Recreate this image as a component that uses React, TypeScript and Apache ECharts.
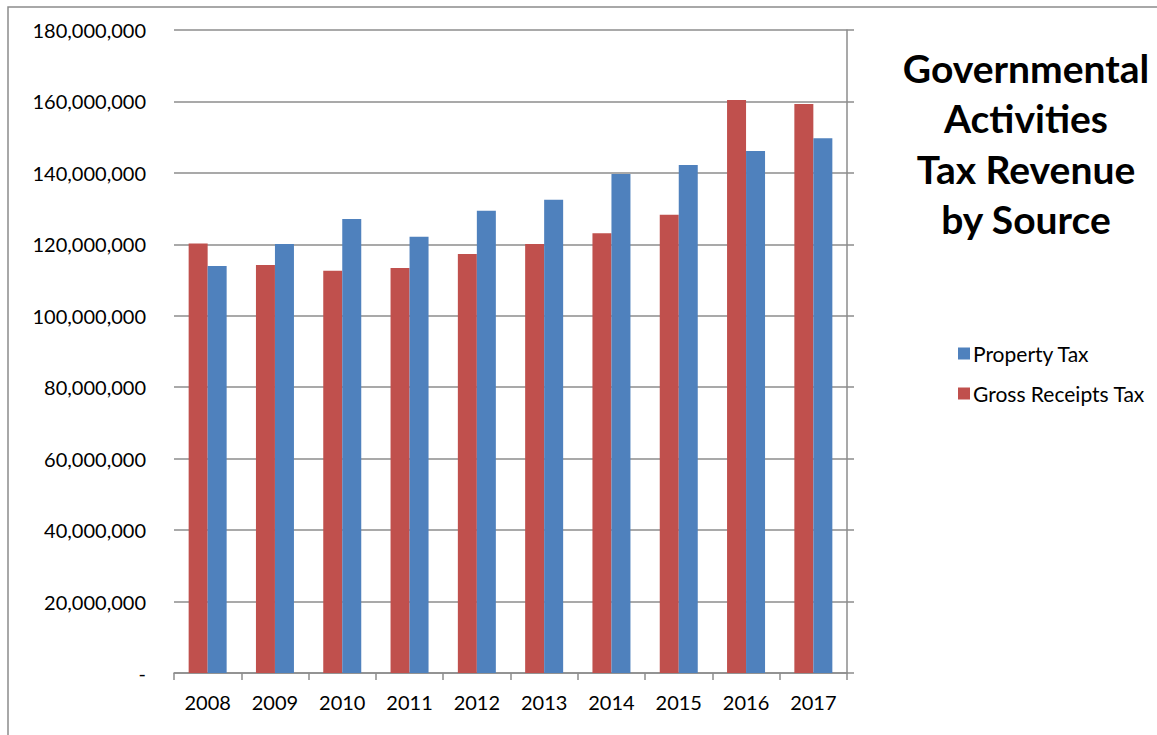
import React, { useEffect, useRef } from "react";
import * as echarts from "echarts";

const years = ["2008", "2009", "2010", "2011", "2012", "2013", "2014", "2015", "2016", "2017"];
const propertyTax = [113.9e6, 120.1e6, 127.1e6, 122.1e6, 129.4e6, 132.5e6, 139.7e6, 142.2e6, 146.1e6, 149.7e6];
const grossReceiptsTax = [120.2e6, 114.2e6, 112.6e6, 113.4e6, 117.3e6, 120.1e6, 123.1e6, 128.3e6, 160.4e6, 159.3e6];
const titleLines = ["Governmental", "Activities", "Tax Revenue", "by Source"];
const FONT = "Lato, 'Open Sans', sans-serif";

export default function App() {
  const ref = useRef<HTMLDivElement>(null);
  useEffect(() => {
    const chart = echarts.init(ref.current!, null, { renderer: "svg" });
    const fmt = (v: number) => (v === 0 ? "-" : v.toLocaleString("en-US"));
    chart.setOption({
      animation: false,
      textStyle: { fontFamily: FONT },
      grid: { left: 174, right: 310, top: 30, bottom: 62, containLabel: false },
      legend: {
        data: ["Property Tax", "Gross Receipts Tax"],
        orient: "vertical",
        left: 953,
        top: 338,
        itemWidth: 12,
        itemHeight: 12,
        itemGap: 19,
        icon: "rect",
        textStyle: { fontSize: 21, color: "#000", fontFamily: FONT, padding: [0, 0, 0, -2] },
      },
      graphic: [
        {
          type: "rect",
          shape: { x: 8, y: 7, width: 1300, height: 900 },
          style: { fill: "none", stroke: "#8c8c8c", lineWidth: 1.5 },
          silent: true,
        },
        {
          type: "text",
          x: 1026,
          y: 43,
          style: {
            text: titleLines.join("\n"),
            font: `bold 39px ${FONT}`,
            fill: "#000",
            textAlign: "center",
            textVerticalAlign: "top",
            lineHeight: 50.3,
          },
        },
      ],
      xAxis: {
        type: "category",
        data: years,
        boundaryGap: true,
        axisLine: { show: true, lineStyle: { color: "#8c8c8c", width: 1.5 } },
        axisTick: { show: true, length: 7, alignWithLabel: false, lineStyle: { color: "#8c8c8c", width: 1.5 } },
        axisLabel: { fontSize: 20, color: "#000", margin: 19, fontFamily: FONT },
      },
      yAxis: [
        {
          type: "value",
          min: 0,
          max: 180000000,
          interval: 20000000,
          position: "left",
          axisLine: { show: false },
          axisTick: { show: false },
          splitLine: { show: true, lineStyle: { color: "#8c8c8c", width: 1.5 } },
          axisLabel: { fontSize: 20, color: "#000", margin: 28, formatter: fmt, fontFamily: FONT },
        },
        {
          type: "value",
          min: 0,
          max: 180000000,
          interval: 20000000,
          position: "right",
          axisLine: { show: true, lineStyle: { color: "#8c8c8c", width: 1.5 } },
          axisTick: { show: true, length: 7, lineStyle: { color: "#8c8c8c", width: 1.5 } },
          splitLine: { show: false },
          axisLabel: { show: false },
        },
      ],
      series: [
        {
          name: "Gross Receipts Tax",
          type: "bar",
          data: grossReceiptsTax,
          barWidth: 19,
          barGap: "0%",
          itemStyle: { color: "#C0504D" },
        },
        {
          name: "Property Tax",
          type: "bar",
          data: propertyTax,
          barWidth: 19,
          barGap: "0%",
          itemStyle: { color: "#4F81BD" },
        },
      ],
    });
    return () => chart.dispose();
  }, []);
  return (
    <div
      ref={ref}
      style={{ position: "fixed", left: 0, top: 0, width: 1157, height: 735, background: "#fff" }}
    />
  );
}
